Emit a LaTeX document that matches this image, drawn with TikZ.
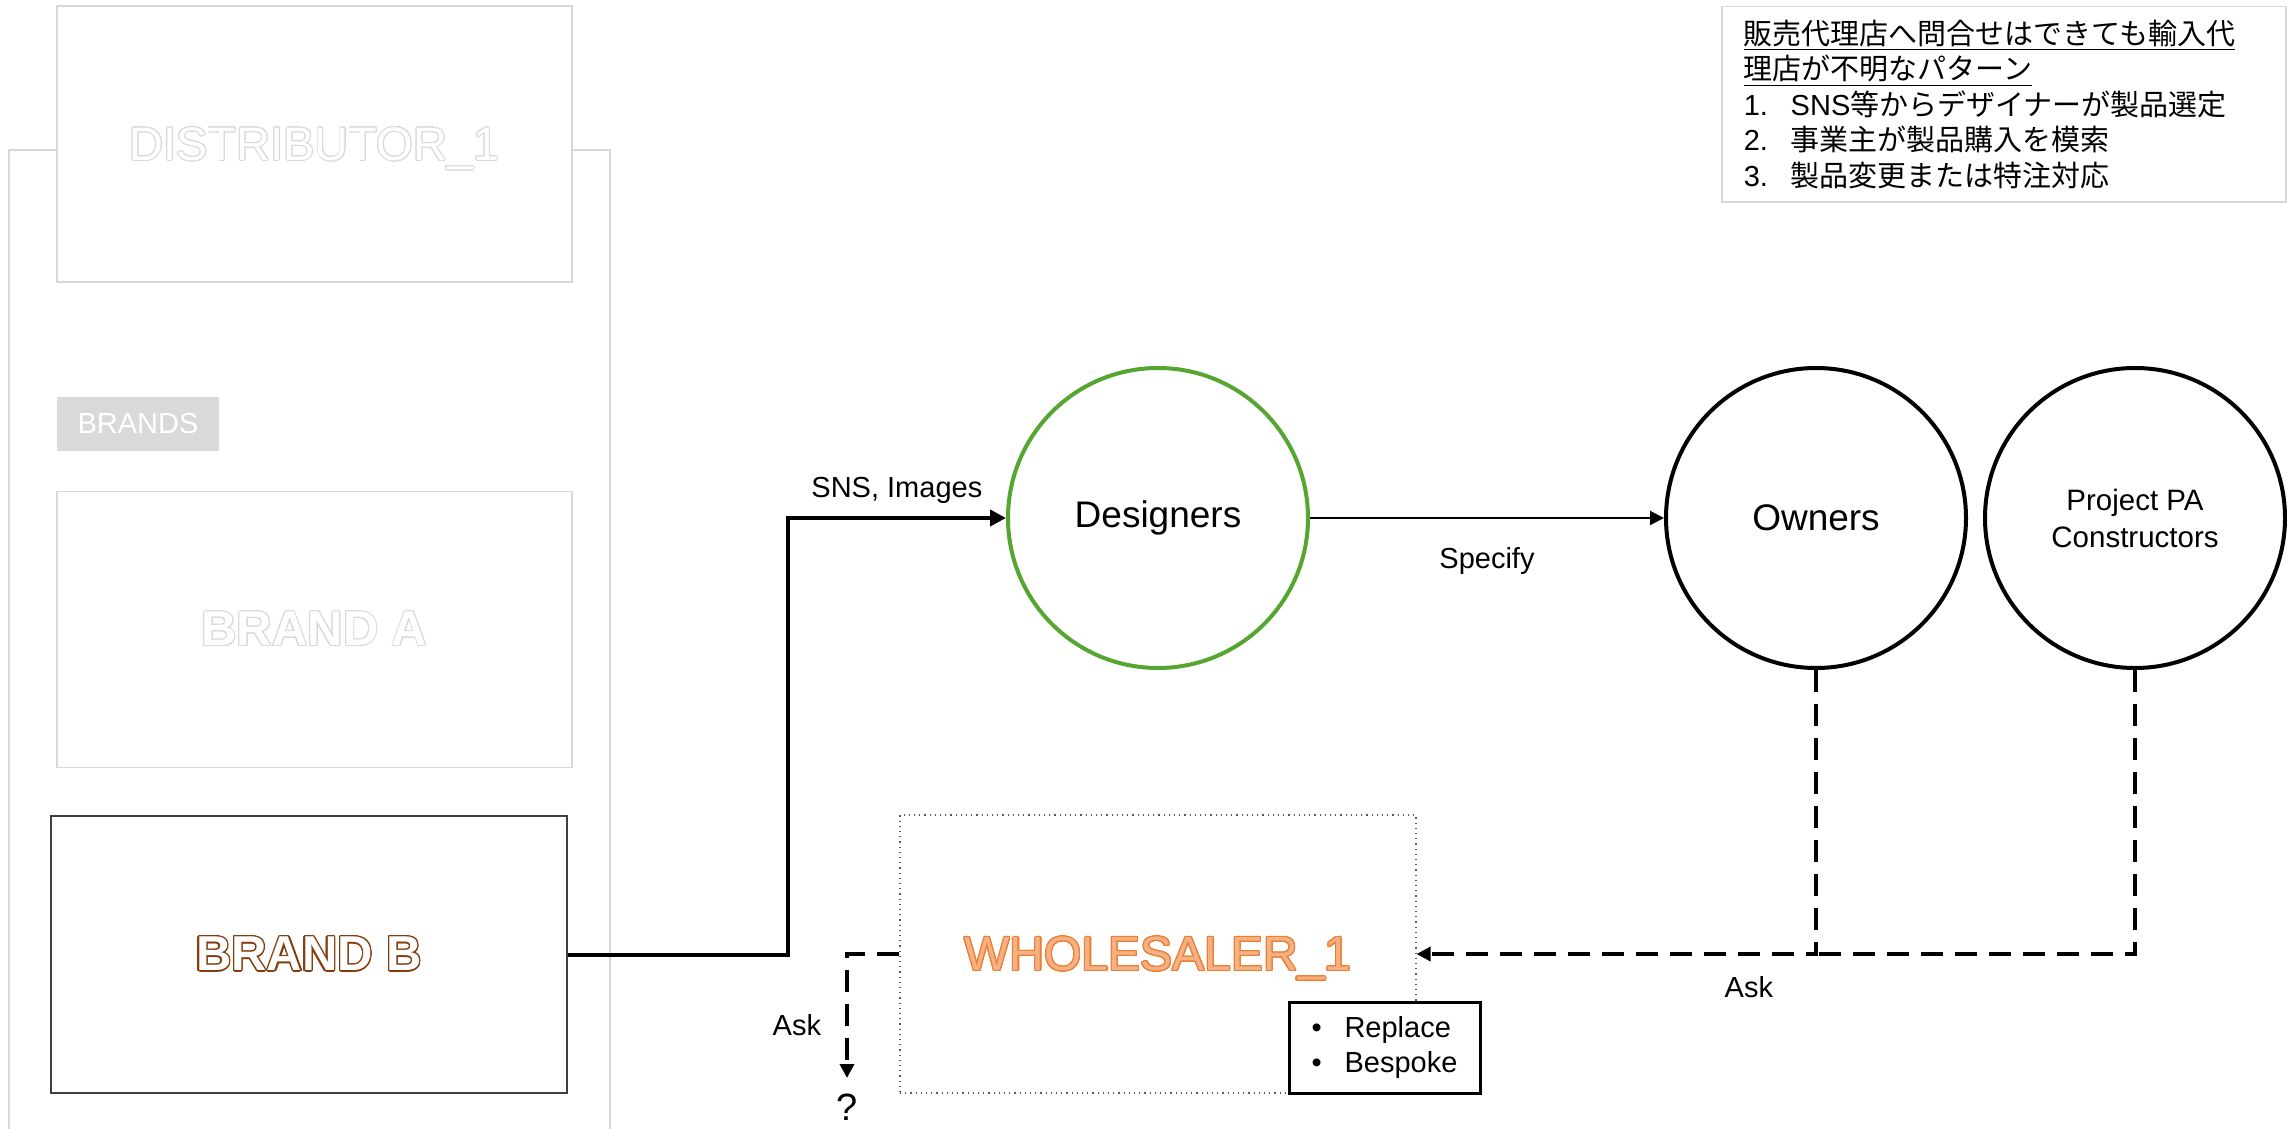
\documentclass[tikz,border=0pt]{standalone}
\usepackage{fontspec}
\setmainfont{Liberation Sans}
\newfontfamily\jpfont{Noto Sans CJK JP}
\usepackage{contour}
\usetikzlibrary{arrows.meta}

\definecolor{framegray}{RGB}{217,217,217}
\definecolor{boxgray}{RGB}{64,64,64}
\definecolor{dotgray}{RGB}{89,89,89}
\definecolor{brandbrown}{RGB}{132,60,12}
\definecolor{designgreen}{RGB}{84,166,48}
\definecolor{saleorange}{RGB}{237,125,49}
\definecolor{salefill}{RGB}{244,177,131}

\tikzset{
  grayframe/.style={draw=framegray, line width=0.75pt, fill=white, inner sep=0pt},
  brandbox/.style={draw=boxgray, line width=0.75pt, fill=white, inner sep=0pt},
  rolecircle/.style={circle, draw, line width=2pt, fill=white, minimum size=150pt, inner sep=0pt, font=\fontsize{18.5pt}{22pt}\selectfont},
  feed/.style={line width=2pt, -{Triangle[length=8pt,width=8pt]}},
  askline/.style={line width=2pt, dash pattern=on 11pt off 6pt, -{Triangle[length=7pt,width=7pt]}},
  askdash/.style={line width=2pt, dash pattern=on 11pt off 6pt},
  edgelabel/.style={font=\fontsize{14.5pt}{17pt}\selectfont, inner sep=2pt},
}

\begin{document}
\begin{tikzpicture}[x=0.5pt,y=0.5pt,yscale=-1]
\useasboundingbox (0,0) rectangle (2287,1129);

%Shape: Brands frame
\draw[framegray, line width=0.75pt] (9,1140) |- (610,150) -- (610,1140);

% Distributor
\node[grayframe, minimum width=257.5pt, minimum height=138pt, text depth=0pt, font=\fontsize{23.5pt}{28pt}\selectfont] (distributor) at (314.5,144)
  {\contourlength{0.4pt}\textcolor{white}{\contour{framegray}{DISTRIBUTOR\_1}}};
% Brands tag
\node[fill=framegray, minimum width=81pt, minimum height=27pt, inner sep=0pt, text=white, font=\fontsize{14.5pt}{17pt}\selectfont] (brands) at (138,424) {BRANDS};
% Brand boxes
\node[grayframe, minimum width=257.5pt, minimum height=138pt, font=\bfseries\fontsize{24.5pt}{29pt}\selectfont] (brandA) at (314.5,629.5)
  {\contourlength{0.5pt}\textcolor{white}{\contour{framegray}{BRAND A}}};
\node[brandbox, minimum width=258pt, minimum height=138.5pt, font=\bfseries\fontsize{24.5pt}{29pt}\selectfont] (brandB) at (309,954.5)
  {\contourlength{0.7pt}\textcolor{white}{\contour{brandbrown}{BRAND B}}};

% Wholesaler
\node[draw=dotgray, dotted, line width=0.6pt, minimum width=258pt, minimum height=139pt, inner sep=0pt, text depth=0pt, font=\fontsize{24pt}{29pt}\selectfont] (wholesaler) at (1158,954)
  {\contourlength{0.55pt}\textcolor{salefill}{\contour{saleorange}{WHOLESALER\_1}}};
\node[draw, line width=1.5pt, fill=white, minimum width=95.5pt, minimum height=45.5pt, inner sep=0pt, align=left, font=\fontsize{14.5pt}{17.5pt}\selectfont] (options) at (1384.5,1047.5)
  {\makebox[16.5pt][l]{\textbullet}Replace\\\makebox[16.5pt][l]{\textbullet}Bespoke};
\node[inner sep=0pt, anchor=north, font=\fontsize{19pt}{23pt}\selectfont] (unknown) at (847,1094) {?};

% Circles
\node[rolecircle, draw=designgreen] (designers) at (1158,518) {Designers};
\node[rolecircle] (owners) at (1816,518) {Owners};
\node[rolecircle, align=center, font=\fontsize{14.75pt}{18.5pt}\selectfont] (project) at (2135,518) {Project PA\\Constructors};

% Note
\node[draw=framegray, line width=0.75pt, anchor=north west, text width=260pt, inner xsep=11pt, minimum height=97.5pt, align=left, font=\fontsize{14.5pt}{17.7pt}\selectfont] (note) at (1721,6)
  {\underline{\jpfont 販売代理店へ問合せはできても輸入代}\\
   \underline{\jpfont 理店が不明なパターン}\\
   \makebox[23.5pt][l]{1.}SNS{\jpfont 等からデザイナーが製品選定}\\
   \makebox[23.5pt][l]{2.}{\jpfont 事業主が製品購入を模索}\\
   \makebox[23.5pt][l]{3.}{\jpfont 製品変更または特注対応}};

% Connectors
\draw[feed] (brandB.east) -- ++(220,0) |- node[edgelabel, pos=0.75, above=4pt] {SNS, Images} (designers.west);
\draw[line width=1pt, -{Triangle[length=7pt,width=7pt]}] (designers) -- node[edgelabel, below=12pt] {Specify} (owners);
\coordinate (askjoin) at (owners.south |- wholesaler.east);
\draw[askdash] (project.south) |- (askjoin);
\draw[askline] (owners.south) |- node[edgelabel, pos=0.584, below=8pt] {Ask} (wholesaler.east);
\draw[askline, shorten >=8pt] (wholesaler.west) -| node[edgelabel, pos=0.755, left=10pt] {Ask} (unknown.north);
\end{tikzpicture}
\end{document}
